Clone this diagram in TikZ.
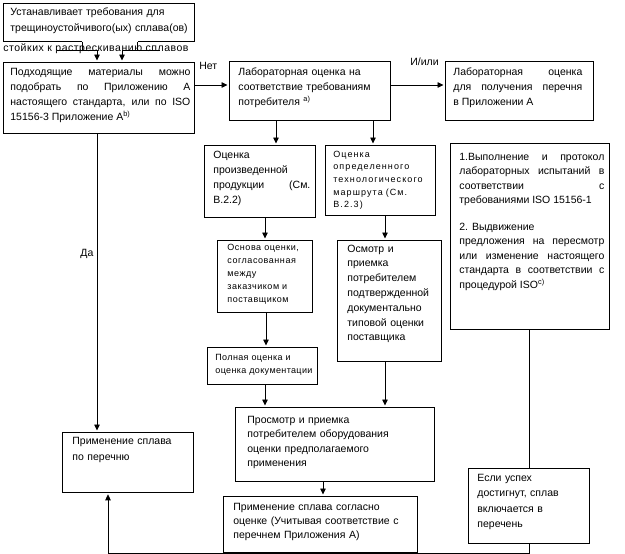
\documentclass[tikz,border=0pt]{standalone}
\usepackage{fontspec}
\setmainfont{Liberation Sans}
\usetikzlibrary{arrows.meta}
\hyphenpenalty=10000
\exhyphenpenalty=10000
\hbadness=10000
\begin{document}
\begin{tikzpicture}[x=1pt,y=-1pt,
  line width=0.8pt,
  bx/.style 2 args={draw, anchor=north west, inner sep=0pt, minimum width=#1, minimum height=#2},
  tx/.style={anchor=north west, inner sep=0pt, text width=#1, font=\fontsize{10.5}{15}\selectfont},
  lb/.style={anchor=base west, inner sep=0pt, font=\fontsize{10.5}{15}\selectfont},
  arr/.style={-{Triangle[length=6pt,width=5.5pt]}, shorten >=1.5pt},
]
\useasboundingbox (0,0) rectangle (625,554);

% boxes
\node[bx={191pt}{38pt}, draw=none] (b1) at (3,3) {};
\node[bx={191pt}{71pt}] (b2) at (3,62) {};
\node[bx={161pt}{59pt}] (lab) at (229,61) {};
\node[bx={148pt}{59pt}] (b3) at (445,61) {};
\node[bx={111pt}{72pt}] (ocp) at (204,145) {};
\node[bx={110pt}{70pt}] (ood) at (325,145) {};
\node[bx={159pt}{186pt}] (big) at (450,143) {};
\node[bx={95pt}{72pt}] (osn) at (217,240) {};
\node[bx={104pt}{121pt}] (osm) at (337,240) {};
\node[bx={110pt}{37pt}] (poln) at (207,347) {};
\node[bx={199pt}{74pt}] (prosm) at (235,407) {};
\node[bx={131pt}{60pt}] (prim1) at (62,432) {};
\node[bx={194pt}{56pt}] (prim2) at (223,496) {};
\node[bx={121pt}{75pt}] (esli) at (468,468) {};

% box 1 outline with gap
\coordinate (c1) at ([shift={(79,0)}]b1.south west);
\coordinate (c2) at ([shift={(-57,0)}]b1.south east);
\draw (c1) -- (b1.south west) -- (b1.north west) -- (b1.north east) -- (b1.south east) -- (c2);

% texts
\node[tx=180pt, align=left, font=\fontsize{10.5}{16}\selectfont] (t1) at ([shift={(7,4.5)}]b1.north west)
  {Устанавливает требования для\\трещиноустойчивого(ых) сплава(ов)};
\node[lb, font=\fontsize{10.5}{15}\selectfont\addfontfeatures{LetterSpace=5}] (st) at (3,51) {стойких к растрескиванию сплавов};
\node[tx=180pt, align=justify] (t2) at ([shift={(7,5.4)}]b2.north west)
  {Подходящие материалы можно\linebreak подобрать по Приложению А\linebreak настоящего стандарта, или по ISO\linebreak 15156-3 Приложение А\textsuperscript{b)}};
\node[lb] (net) at (199,69) {Нет};
\node[tx=150pt, align=left] (tlab) at ([shift={(9,6.4)}]lab.north west)
  {Лабораторная оценка на\\соответствие требованиям\\потребителя \textsuperscript{a)}};
\node[lb] (ili) at (410,65) {И/или};
\node[tx=129pt, align=justify] (t3) at ([shift={(8,6.4)}]b3.north west)
  {Лабораторная оценка\linebreak для получения перечня\linebreak в Приложении А};
\node[tx=97pt, align=justify] (tocp) at ([shift={(9,5.4)}]ocp.north west)
  {Оценка\newline произведенной\newline продукции (См.\linebreak В.2.2)};
\node[tx=100pt, align=left, font=\fontsize{9}{12.7}\selectfont\addfontfeatures{LetterSpace=12}] (tood) at ([shift={(8,5.5)}]ood.north west)
  {Оценка\\определенного\\технологического\\маршрута (См.\\В.2.3)};
\node[tx=145pt, align=justify, font=\fontsize{10.5}{14.5}\selectfont] (tbigA) at ([shift={(9,9.4)}]big.north west)
  {\parfillskip=0pt 1.Выполнение и протокол\linebreak лабораторных испытаний в\linebreak соответствии с\linebreak требованиями ISO 15156-1};
\node[tx=145pt, align=justify, font=\fontsize{10.5}{14.5}\selectfont] (tbigB) at ([shift={(9,79.4)}]big.north west)
  {2. Выдвижение\newline предложения на пересмотр\linebreak или изменение настоящего\linebreak стандарта в соответствии с\linebreak процедурой ISO\textsuperscript{c)}};
\node[tx=85pt, align=left, font=\fontsize{9}{13.2}\selectfont\addfontfeatures{LetterSpace=6}] (tosn) at ([shift={(10,3.5)}]osn.north west)
  {Основа оценки,\\согласованная\\между\\заказчиком и\\поставщиком};
\node[tx=92pt, align=left, font=\fontsize{10.5}{14.8}\selectfont] (tosm) at ([shift={(10,4.4)}]osm.north west)
  {Осмотр и\\приемка\\потребителем\\подтвержденной\\документально\\типовой оценки\\поставщика};
\node[tx=100pt, align=left, font=\fontsize{9}{13}\selectfont\addfontfeatures{LetterSpace=4}] (tpoln) at ([shift={(8,7.4)}]poln.north west)
  {Полная оценка и\\оценка документации};
\node[tx=185pt, align=left, font=\fontsize{10.5}{14.5}\selectfont] (tprosm) at ([shift={(12,8.4)}]prosm.north west)
  {Просмотр и приемка\\потребителем оборудования\\оценки предполагаемого\\применения};
\node[tx=120pt, align=left, font=\fontsize{10.5}{16.5}\selectfont] (tprim1) at ([shift={(10,4.4)}]prim1.north west)
  {Применение сплава\\по перечню};
\node[tx=185pt, align=left, font=\fontsize{10.5}{14}\selectfont] (tprim2) at ([shift={(10,6.4)}]prim2.north west)
  {Применение сплава согласно\\оценке (Учитывая соответствие с\\перечнем Приложения А)};
\node[tx=110pt, align=left, font=\fontsize{10.5}{15.5}\selectfont] (tesli) at ([shift={(9,5.4)}]esli.north west)
  {Если успех\\достигнут, сплав\\включается в\\перечень};
\node[lb] (da) at (80,256) {Да};

% top connectors
\coordinate (k1) at ([shift={(94,-12)}]b2.north west);
\coordinate (k2) at ([shift={(119,-12)}]b2.north west);
\coordinate (l1) at ([shift={(54,-12)}]b2.north west);
\coordinate (l2) at ([shift={(157,-12)}]b2.north west);
\draw (l1) -- (k1);
\draw (c1) -- (c1 |- k1);
\draw[arr] (k1) -- (k1 |- b2.north);
\draw (l2) -- (k2);
\draw (c2) -- (c2 |- k2);
\draw[arr] (k2) -- (k2 |- b2.north);

% main connectors
\coordinate (a1) at ([shift={(0,24)}]lab.north west);
\draw[arr] (b2.east |- a1) -- (a1);
\coordinate (a2) at ([shift={(0,24)}]lab.north east);
\draw[arr] (a2) -- (b3.west |- a2);
\coordinate (d1) at ([shift={(47,0)}]lab.south west);
\draw[arr] (d1) -- (d1 |- ocp.north);
\coordinate (d2) at ([shift={(144,0)}]lab.south west);
\draw[arr] (d2) -- (d2 |- ood.north);
\coordinate (e1) at ([shift={(61,0)}]ocp.south west);
\draw[arr] (e1) -- (e1 |- osn.north);
\coordinate (e2) at ([shift={(60,0)}]ood.south west);
\draw[arr] (e2) -- (e2 |- osm.north);
\coordinate (e3) at ([shift={(49,0)}]osn.south west);
\draw[arr] (e3) -- (e3 |- poln.north);
\coordinate (e4) at ([shift={(58,0)}]poln.south west);
\draw[arr] (e4) -- (e4 |- prosm.north);
\coordinate (e5) at ([shift={(48,0)}]osm.south west);
\draw[arr] (e5) -- (e5 |- prosm.north);
\coordinate (e6) at ([shift={(88,0)}]prosm.south west);
\draw[arr] (e6) -- (e6 |- prim2.north);
\coordinate (e7) at ([shift={(94,0)}]b2.south west);
\draw[arr] (e7) -- (e7 |- prim1.north);
\coordinate (e8) at ([shift={(79,0)}]big.south west);
\draw (e8) -- (e8 |- esli.north);
\coordinate (g) at ([shift={(61,10)}]esli.south west);
\coordinate (h) at ([shift={(46,0)}]prim1.south west);
\draw[arr] (g |- esli.south) -- (g) -| (h);
\end{tikzpicture}
\end{document}
